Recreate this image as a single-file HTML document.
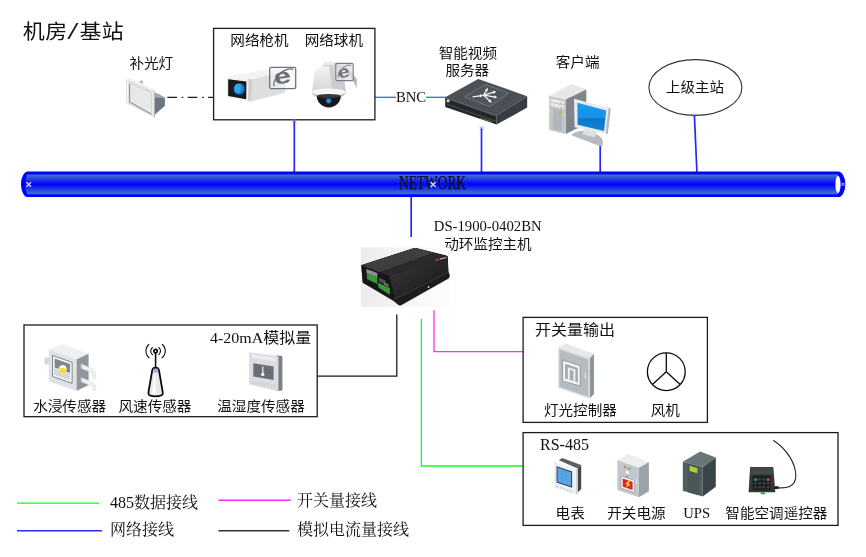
<!DOCTYPE html>
<html lang="zh-CN">
<head>
<meta charset="utf-8">
<title>机房/基站 动环监控拓扑</title>
<style>
html,body{margin:0;padding:0;background:#fff;}
body{width:866px;height:557px;overflow:hidden;position:relative;}
svg{position:absolute;left:0;top:0;display:block;}
text{opacity:0.999;}
.hei{font-family:"Liberation Sans","Noto Sans CJK SC",sans-serif;fill:#111;font-weight:400;}
.song{font-family:"Liberation Serif","Noto Serif CJK SC",serif;fill:#111;}
.tnr{font-family:"Liberation Serif",serif;fill:#111;}
.l{font-size:14.6px;}
.m{font-size:16px;}
</style>
</head>
<body>
<svg width="866" height="557" viewBox="0 0 866 557">
<defs>
  <linearGradient id="pipe" x1="0" y1="0" x2="0" y2="1">
    <stop offset="0" stop-color="#0000ff"/>
    <stop offset="0.06" stop-color="#0000ff"/>
    <stop offset="0.125" stop-color="#3f6fd1"/>
    <stop offset="0.5" stop-color="#0000fe"/>
    <stop offset="0.875" stop-color="#3f6fd1"/>
    <stop offset="0.94" stop-color="#0000ff"/>
    <stop offset="1" stop-color="#0000ff"/>
  </linearGradient>
</defs>

<!-- ===== connection lines ===== -->
<g fill="none" stroke-linecap="butt">
  <!-- blue network drops -->
  <g stroke="#2626ff" stroke-width="1.7">
    <line x1="294.3" y1="120" x2="294.3" y2="172"/>
    <line x1="481.5" y1="128.2" x2="481.5" y2="172"/>
    <line x1="600.2" y1="145" x2="600.2" y2="172"/>
    <line x1="694.4" y1="115.4" x2="696.9" y2="172"/>
    <line x1="411.2" y1="197" x2="411.2" y2="237"/>
  </g>
  <!-- BNC line -->
  <g stroke="#1f7ad6" stroke-width="1.3">
    <line x1="375" y1="97.3" x2="396" y2="97.3"/>
    <line x1="426" y1="97.3" x2="446" y2="97.3"/>
  </g>
  <!-- dash-dot -->
  <line x1="167.3" y1="97.3" x2="213.5" y2="97.3" stroke="#1c1c1c" stroke-width="1.3" stroke-dasharray="9.6 4.8 1.6 4.4"/>
  <!-- analog (black) -->
  <polyline points="396.8,314.4 396.8,376.2 317.2,376.2" stroke="#1a1a1a" stroke-width="1.3"/>
  <!-- green 485 -->
  <polyline points="421.4,319 421.4,466 523,466" stroke="#12ff12" stroke-width="1.3"/>
  <!-- magenta switch -->
  <polyline points="434,310.2 434,351.6 523,351.6" stroke="#ff2bff" stroke-width="1.3"/>
</g>

<!-- ===== network pipe ===== -->
<g id="pipe-g">
  <path d="M28,172.1 H838 a6.8,12.2 0 0 1 0,24.4 H28 a6.4,12.2 0 0 1 0,-24.4 Z" fill="#0000ff" stroke="#0000ff" stroke-width="1.2"/>
  <path d="M28.6,172.1 H838 V196.5 H28.6 Q25.2,191.6 25.2,184.3 Q25.2,177 28.6,172.1 Z" fill="url(#pipe)"/>
  <ellipse cx="838" cy="184.4" rx="2.6" ry="8.6" fill="#fff"/>
  <g stroke="#cfd3f6" stroke-width="1.5" stroke-linecap="butt">
    <path d="M26.4,182.2 l4.6,4.6 m0,-4.6 l-4.6,4.6"/>
    <path d="M841.4,182.7 l3.2,3.2 m0,-3.2 l-3.2,3.2" stroke-width="0.9" stroke="#d5d8f8"/>
  </g>
</g>
<text class="tnr" x="432.5" y="189" font-size="19.5" text-anchor="middle" textLength="67" lengthAdjust="spacingAndGlyphs" fill="#000020" stroke="#000020" stroke-width="0.25">NETWORK</text>
<path d="M430.6,182 l5,5 m0,-5 l-5,5" stroke="#cfd3f6" stroke-width="1.6" fill="none"/>

<!-- ===== boxes ===== -->
<g fill="none" stroke="#1a1a1a" stroke-width="1.3">
  <rect x="213.6" y="28.4" width="161.3" height="91.4"/>
  <rect x="24" y="325" width="293.2" height="91.7"/>
  <rect x="523.1" y="317.4" width="184.3" height="105"/>
  <rect x="523.1" y="432.6" width="314.9" height="92.8"/>
</g>
<ellipse cx="695.4" cy="87.5" rx="46.5" ry="27.9" fill="#fff" stroke="#333" stroke-width="1.1"/>

<!-- ===== texts ===== -->
<text class="hei" transform="translate(22.8 39.4) scale(1 0.93)" font-size="22" letter-spacing="0.45">机房<tspan font-family="Liberation Mono,monospace" font-size="23" dx="-1.6" dy="-0.6">/</tspan><tspan dx="-0.9" dy="0.6">基站</tspan></text>
<text class="hei l" transform="translate(151.3 68.3) scale(1 0.93)" text-anchor="middle">补光灯</text>
<text class="hei l" transform="translate(259.5 45) scale(1 0.93)" text-anchor="middle">网络枪机</text>
<text class="hei l" transform="translate(333.8 45) scale(1 0.93)" text-anchor="middle">网络球机</text>
<text class="tnr" x="411" y="101.6" font-size="14.7" text-anchor="middle">BNC</text>
<text class="hei l" transform="translate(467.8 57.9) scale(1 0.93)" text-anchor="middle">智能视频</text>
<text class="hei l" transform="translate(467.3 75.1) scale(1 0.93)" text-anchor="middle">服务器</text>
<text class="hei l" transform="translate(577.6 66.9) scale(1 0.93)" text-anchor="middle">客户端</text>
<text class="hei l" transform="translate(695 91.8) scale(1 0.93)" text-anchor="middle">上级主站</text>
<text class="tnr" x="487.7" y="231.4" font-size="14.7" text-anchor="middle">DS-1900-0402BN</text>
<text class="hei l" transform="translate(487.9 249.2) scale(1 0.93)" text-anchor="middle">动环监控主机</text>
<text transform="translate(311.2 343.3) scale(1 0.93)" text-anchor="end" class="m"><tspan class="tnr">4-20mA</tspan><tspan class="hei">模拟量</tspan></text>
<text class="hei l" transform="translate(69.6 410.5) scale(1 0.93)" text-anchor="middle">水浸传感器</text>
<text class="hei l" transform="translate(155 410.5) scale(1 0.93)" text-anchor="middle">风速传感器</text>
<text class="hei l" transform="translate(261 410.5) scale(1 0.93)" text-anchor="middle">温湿度传感器</text>
<text class="hei m" transform="translate(535 335.2) scale(1 0.93)">开关量输出</text>
<text class="hei l" transform="translate(580.4 414.5) scale(1 0.93)" text-anchor="middle">灯光控制器</text>
<text class="hei l" transform="translate(665.3 414.5) scale(1 0.93)" text-anchor="middle">风机</text>
<text class="tnr m" x="540" y="450">RS-485</text>
<text class="hei l" transform="translate(570.2 518.2) scale(1 0.93)" text-anchor="middle">电表</text>
<text class="hei l" transform="translate(636.4 518.2) scale(1 0.93)" text-anchor="middle">开关电源</text>
<text class="tnr" x="696.7" y="518" font-size="14.7" text-anchor="middle">UPS</text>
<text class="hei l" transform="translate(776.4 518.2) scale(1 0.93)" text-anchor="middle">智能空调遥控器</text>

<!-- legend -->
<g fill="none" stroke-width="1.4">
  <line x1="17" y1="503.1" x2="99" y2="503.1" stroke="#12ff12"/>
  <line x1="17" y1="530.8" x2="102" y2="530.8" stroke="#2a2aff"/>
  <line x1="218.4" y1="500.3" x2="290.8" y2="500.3" stroke="#ff2bff"/>
  <line x1="218.4" y1="530.8" x2="289.3" y2="530.8" stroke="#333"/>
</g>
<text class="song m" x="110" y="507.6">485数据接线</text>
<text class="song m" x="110" y="534.8">网络接线</text>
<text class="song m" x="297" y="505.6">开关量接线</text>
<text class="song m" x="297" y="535.4">模拟电流量接线</text>

<!-- ===== icons ===== -->

<defs>
  <filter id="soft" x="-5%" y="-5%" width="110%" height="110%"><feGaussianBlur stdDeviation="0.35"/></filter>
  <filter id="soft2" x="-5%" y="-5%" width="110%" height="110%"><feGaussianBlur stdDeviation="0.6"/></filter>
  <linearGradient id="gBody" x1="0" y1="0" x2="0" y2="1"><stop offset="0" stop-color="#f2f2f2"/><stop offset="1" stop-color="#d0d0d3"/></linearGradient>
  <linearGradient id="gLens" x1="0" y1="0" x2="1" y2="1"><stop offset="0" stop-color="#2aa4ee"/><stop offset="1" stop-color="#0b6fc0"/></linearGradient>
  <linearGradient id="gScreen" x1="0" y1="0" x2="0" y2="1"><stop offset="0" stop-color="#1d9bf0"/><stop offset="0.55" stop-color="#1490e6"/><stop offset="0.56" stop-color="#0878cc"/><stop offset="1" stop-color="#0a82d8"/></linearGradient>
  <linearGradient id="gDev" x1="0" y1="0" x2="1" y2="1"><stop offset="0" stop-color="#3a3a3c"/><stop offset="1" stop-color="#151516"/></linearGradient>
  <linearGradient id="gDevBg" x1="0" y1="0" x2="1" y2="0"><stop offset="0" stop-color="#ececec"/><stop offset="0.6" stop-color="#f7f7f7"/><stop offset="1" stop-color="#fdfdfd"/></linearGradient>
</defs>

<!-- fill light -->
<g id="ic-light" filter="url(#soft)">
  <ellipse cx="141.4" cy="82.6" rx="1.6" ry="2" fill="#9a9fa6"/>
  <ellipse cx="141.4" cy="82.9" rx="0.7" ry="1" fill="#e6e7e9"/>
  <polygon points="155,93.1 159.6,94.5 164.9,98.1 164.9,105.8 155,114.4" fill="#6d7680"/>
  <polygon points="155,93.1 159.6,94.5 164.9,98.1 155,97.4" fill="#a2a9b1"/>
  <polygon points="126.1,79.6 129.8,78 155.8,90.2 154.6,91.3" fill="#f1f1f2"/>
  <polygon points="126.1,79.6 154.6,91.3 154.6,117.6 126.1,103" fill="#dcdddf"/>
  <polygon points="126.9,81 128.4,81.6 128.4,103 126.9,102.2" fill="#f6f6f7"/>
  <polygon points="151.6,91.2 154.6,91.3 154.6,117.6 151.6,116" fill="#ededee"/>
  <polygon points="153.8,91.3 155,91.3 155,117.2 153.8,117.6" fill="#b3b6bb"/>
  <polygon points="129,83.7 151.4,93.1 151.4,114.7 129,102.1" fill="#8b9098"/>
  <polygon points="130.1,84.1 151.4,93.1 151.4,113.4 130.1,101.4" fill="#ececee"/>
  <g stroke="#d4d6d9" stroke-width="0.5">
    <line x1="130.1" y1="86.8" x2="151.4" y2="95.9"/><line x1="130.1" y1="89.2" x2="151.4" y2="98.5"/>
    <line x1="130.1" y1="91.6" x2="151.4" y2="101.1"/><line x1="130.1" y1="94" x2="151.4" y2="103.7"/>
    <line x1="130.1" y1="96.4" x2="151.4" y2="106.3"/><line x1="130.1" y1="98.8" x2="151.4" y2="108.9"/>
  </g>
</g>

<!-- bullet camera -->
<g id="ic-bullet" filter="url(#soft)">
  <polygon points="227.2,76.6 262,70.2 285,71.2 252,79.2" fill="#f3f3f3"/>
  <polygon points="252,79.2 285,71.2 285,92.8 251.6,101.4" fill="#dedee0"/>
  <polygon points="226.8,76.8 252.2,79.2 251.6,101.6 226.8,97.2" fill="#f0f0f0"/>
  <polygon points="248.4,79 252.2,79.2 251.6,101.6 248,100.8" fill="#cfcdcd"/>
  <polygon points="228.2,79.2 246.4,81.4 246.2,99.2 228.2,96" fill="#15171a"/>
  <ellipse cx="238.8" cy="88.8" rx="7.4" ry="7.8" fill="#24272b"/>
  <ellipse cx="239" cy="88.8" rx="6.3" ry="6.7" fill="#0e0f11"/>
  <ellipse cx="239.2" cy="89" rx="5.4" ry="5.8" fill="url(#gLens)"/>
  <ellipse cx="237.6" cy="88.4" rx="3.2" ry="4.6" fill="#36aef2" opacity="0.75"/>
</g>
<g id="ic-ie1">
  <rect x="269.7" y="67.3" width="26" height="21.3" rx="1.6" fill="#f4f4f6" fill-opacity="0.6" stroke="#6f737b" stroke-width="1.3"/>
  <path d="M293.2,69.8 C290.6,67.2 281.6,70.2 277.2,76.6 C274.4,80.6 273.2,84.6 274.4,86" fill="none" stroke="#70747c" stroke-width="1.3"/>
  <text transform="translate(283.2 83.4) rotate(-9) scale(1.46 1)" font-family="Liberation Sans,sans-serif" font-weight="bold" font-size="21.4" text-anchor="middle" fill="#696d75">e</text>
</g>

<!-- dome camera -->
<g id="ic-dome" filter="url(#soft)">
  <path d="M331,67.4 C343,68.4 351,74 356.8,88.4 L356.8,79.6 C351.6,69.6 344,63.6 333,62.4 Z" fill="#b4b6ba"/>
  <rect x="323.2" y="61.8" width="11.6" height="6.6" rx="2" fill="#ebebec"/>
  <path d="M323.2,65 h11.6 v1.6 h-11.6 Z" fill="#cfcfd2"/>
  <path d="M314.6,73 C316,68 321,66.4 329,66.4 C337,66.4 342,68 343.4,73 L345.8,91.6 C346,96 338,97.6 328.8,97.6 C319.6,97.6 311.6,96 311.9,91.6 Z" fill="url(#gBody)"/>
  <path d="M329,66.4 C337,66.4 342,68 343.4,73 L345.8,91.6 C343,94 338,94.6 333,94.6 Z" fill="#c4c4c8" opacity="0.75"/>
  <path d="M311.9,91.4 C311.6,96.4 319.6,98.2 328.8,98.2 C338,98.2 346,96.4 345.8,91.4 C345,94.4 338,95.6 328.8,95.6 C319.6,95.6 312.6,94.4 311.9,91.4 Z" fill="#b9babe"/>
  <ellipse cx="328.8" cy="92" rx="17" ry="3.6" fill="#f6f6f7"/>
  <path d="M316.8,96 A12,11.4 0 0 0 340.8,96 Z" fill="#15171a"/>
  <ellipse cx="328.8" cy="96" rx="12" ry="2" fill="#34373c"/>
  <circle cx="328.7" cy="100.8" r="3.2" fill="#23303c"/>
  <circle cx="328.7" cy="100.8" r="2.2" fill="#1a96ea"/>
</g>
<g id="ic-ie2">
  <rect x="335.8" y="63.4" width="17.4" height="17.2" rx="1.4" fill="#e2e2e6" fill-opacity="0.8" stroke="#7a7e86" stroke-width="1.1"/>
  <path d="M351.2,65.6 C349,64 343.4,66.2 340.4,70.6 C338.4,73.6 337.6,76.6 338.4,77.8" fill="none" stroke="#7b7f87" stroke-width="1"/>
  <text transform="translate(344.6 77.6) rotate(-10) scale(1.25 1)" font-family="Liberation Sans,sans-serif" font-weight="bold" font-size="17" text-anchor="middle" fill="#6f737b">e</text>
</g>

<!-- video server -->
<g id="ic-server" filter="url(#soft)">
  <polygon points="445.2,97.2 478.2,79 527.2,96.2 496.6,115.4" fill="#4b5057"/>
  <polygon points="445.2,97.2 496.6,115.4 496.6,124.6 445.2,107" fill="#25282c"/>
  <polygon points="496.6,115.4 527.2,96.2 527.2,107.6 496.6,124.6" fill="#393d43"/>
  <polygon points="445.2,97.2 496.6,115.4 496.6,116.6 445.2,98.4" fill="#5a5f66"/>
  <polygon points="446.6,103.6 495.6,120.8 495.6,121.8 446.6,104.6" fill="#4a4e55"/>
  <polygon points="480,117.4 492,121.6 492,122.6 480,118.4" fill="#55812a"/>
  <rect x="446.8" y="99.6" width="2.6" height="2.6" fill="#e4e4e4"/>
  <polygon points="464.9,96.8 485.2,84.4 508.6,93.2 489.9,106.7" fill="#50555c" stroke="#868c93" stroke-width="0.6"/>
  <g fill="#f4f4f4">
    <polygon points="472.7,97.5 480.1,96.4 480.3,97.4 483.4,95.3 479.8,94.2 479.9,95.2 472.5,96.3"/>
    <polygon points="484.2,95.5 486.8,91.1 487.6,91.5 487.9,87.8 484.8,89.9 485.6,90.4 483.0,94.9"/>
    <polygon points="483.8,95.8 493.3,93.0 493.6,93.9 496.4,91.4 492.7,90.8 493.0,91.7 483.4,94.6"/>
    <polygon points="483.5,95.8 493.9,97.5 493.8,98.4 497.4,97.4 494.3,95.3 494.1,96.2 483.7,94.6"/>
    <polygon points="483.2,95.7 488.9,101.0 488.2,101.7 491.8,102.8 490.4,99.3 489.7,100.0 484.0,94.7"/>
  </g>
</g>

<!-- client pc -->
<g id="ic-pc" filter="url(#soft)">
  <polygon points="549.2,96 571.5,83.9 586.3,89.4 565.6,99.4" fill="#e6e7e8"/>
  <polygon points="565.6,99.4 586.3,89.4 586.3,124 565.6,134" fill="#7f8589"/>
  <polygon points="549.2,96 565.6,99.4 565.6,134 549.2,130" fill="#c3c6c8"/>
  <polygon points="550.6,98.6 564.2,101.6 564.2,104.6 550.6,101.6" fill="#e9eaeb"/>
  <polygon points="550.6,102.8 564.2,105.8 564.2,108.8 550.6,105.8" fill="#e9eaeb"/>
  <polygon points="553,108.4 561.8,110.4 561.8,131 553,129" fill="#b3b6b9"/>
  <circle cx="561" cy="103.4" r="0.8" fill="#f0a020"/><circle cx="561" cy="107.6" r="0.8" fill="#f0a020"/>
  <rect x="559.2" y="112.2" width="3" height="1.2" fill="#8bd020"/>
  <path d="M571.4,135.2 C574,132 580,130.2 587,131 C596,132.4 602.6,137 603,142 L602.4,146.2 L599.6,146 Z" fill="#b7bbbe"/>
  <polygon points="584.6,128.6 596.6,131.6 594.8,137.4 582.6,134.2" fill="#dfe0e2"/>
  <polygon points="574,98.8 610.6,108.2 607.6,134 574.6,127.2" fill="#e9eaec"/>
  <polygon points="608.6,108 610.8,108.4 607.8,134 605.8,133.4" fill="#b4b7bb"/>
  <polygon points="577.4,102.8 606.2,110.4 604,131 577.6,124.8" fill="url(#gScreen)"/>
</g>

<!-- main device -->
<g id="ic-dev">
  <rect x="361" y="247.4" width="89.6" height="59.6" fill="url(#gDevBg)"/>
  <g filter="url(#soft2)">
    <path d="M361.3,265.3 L413.6,248.2 Q415.4,247.6 417.2,248.2 L446.4,255.6 Q447.9,256.1 447.9,257.6 L448.3,271.3 L449.6,274.6 Q450.2,277 448.6,278.4 L401.6,305 Q399.6,306.2 397.8,304.6 L393.5,300.9 L362.8,282.8 Z" fill="#1d1d1e"/>
    <polygon points="361.3,265.3 414.6,247.9 447.6,256.3 389.3,276.1" fill="#2a2a2c"/>
    <polygon points="361.3,265.3 414.6,247.9 433,252.6 379,272.2" fill="#303032"/>
    <polygon points="389.3,276.1 447.7,256.3 448.3,271.3 394.8,298.6" fill="url(#gDev)"/>
    <polygon points="361.3,265.3 389.3,276.1 394.8,298.6 362.8,282.8" fill="#171718"/>
    <g stroke="#5a5a5d" stroke-width="0.55">
      <line x1="362.7" y1="265.9" x2="416.1" y2="248.3"/><line x1="364.9" y1="266.7" x2="418.4" y2="248.9"/><line x1="367.1" y1="267.6" x2="420.6" y2="249.4"/><line x1="369.3" y1="268.4" x2="422.9" y2="250.0"/><line x1="371.5" y1="269.3" x2="425.2" y2="250.6"/><line x1="373.7" y1="270.1" x2="427.5" y2="251.2"/><line x1="375.9" y1="271.0" x2="429.8" y2="251.8"/><line x1="378.1" y1="271.9" x2="432.1" y2="252.4"/>
    </g>
    <line x1="394.8" y1="299.2" x2="448.6" y2="272" stroke="#48484b" stroke-width="0.7"/>
    <polygon points="366.4,268.9 377.3,273.1 377.3,277.5 366.4,273.3" fill="#8e908e"/>
    <polygon points="367,273.7 377.3,277.3 377.3,283.9 367,279.1" fill="#379a3b"/>
    <polygon points="377.9,282.7 389.9,288.1 389.9,294.7 378.5,287.5" fill="#379a3b"/>
    <polygon points="379,277.8 385.6,280.6 385.6,284.6 379,281.8" fill="#4e5050"/>
    <polygon points="384,282.2 388.6,284.2 388.6,287 384,285" fill="#6a6c6c"/>
    <polygon points="435,261 439.2,259.9 439.2,258.7 435,259.8" fill="#d8383a"/>
    <polygon points="439.8,259.7 446.4,258 446.4,256.9 439.8,258.6" fill="#bdbdbd"/>
    <circle cx="428.6" cy="286.9" r="0.9" fill="#e6e6e6"/>
    <circle cx="393.4" cy="292.6" r="0.9" fill="#2e2e30"/>
  </g>
</g>


<!-- water sensor -->
<g id="ic-water" filter="url(#soft)">
  <rect x="44.4" y="357.6" width="5" height="7" rx="1.6" fill="#d5d8db"/>
  <polygon points="48.8,349.6 62.4,344.3 88.6,353.7 76.4,359.5" fill="#eef0f1"/>
  <polygon points="76.4,359.5 88.6,353.7 88.6,385.1 76.4,391" fill="#8e969c"/>
  <polygon points="48.8,349.6 76.4,359.5 76.4,391 48.8,381.6" fill="#dfe2e5"/>
  <path d="M81.4,364 L91.2,368.2 C94.8,369.6 96,372 96,378.6 L93,378.6 C93,374.4 92.4,373 90,372 L81.4,368.4 Z" fill="#eef0f2" stroke="#c9cdd1" stroke-width="0.4"/>
  <path d="M81.4,377.4 L91.2,381.6 C94.8,383 96,385 96,390.6 L93,390.6 C93,387.8 92.4,386.4 90,385.4 L81.4,381.8 Z" fill="#eef0f2" stroke="#c9cdd1" stroke-width="0.4"/>
  <ellipse cx="81.6" cy="366.2" rx="1" ry="2.3" fill="#cfd3d6"/><ellipse cx="81.6" cy="379.6" rx="1" ry="2.3" fill="#cfd3d6"/>
  <polygon points="52.5,355.4 72.1,362.4 72.1,383.4 52.5,376.4" fill="#f6f7f8" stroke="#555b61" stroke-width="0.7"/>
  <polygon points="54.6,358.6 70,364 70,380.4 54.6,374.8" fill="#7f878e"/>
  <polygon points="54.6,367.6 70,373 70,380.4 54.6,374.8" fill="#eceeef"/>
  <g stroke="#9aa1a7" stroke-width="0.5"><line x1="54.6" y1="369.6" x2="70" y2="375"/><line x1="54.6" y1="371.6" x2="70" y2="377"/><line x1="54.6" y1="373.4" x2="70" y2="378.8"/></g>
  <ellipse cx="62.7" cy="369.2" rx="4" ry="4.3" fill="#fbfbe8"/>
  <path d="M58.8,369 C60,371.8 63,373.6 66.2,371.6 C66.6,370.2 66.4,369.6 66.2,369 C63.6,369.8 61,369.6 58.8,369 Z" fill="#f2dc1e"/>
  <ellipse cx="62.6" cy="370.6" rx="3.4" ry="2.6" fill="#f4e02a"/>
</g>

<!-- antenna -->
<g id="ic-ant" fill="none" stroke="#0a0a0a">
  <path d="M155.6,367.7 C153.6,367.7 152.6,368.6 152.2,370.4 L148.4,392.6 C148,395.4 151,396.4 155.6,396.4 C160.2,396.4 163.2,395.4 162.8,392.6 L159,370.4 C158.6,368.6 157.6,367.7 155.6,367.7 Z" fill="#e9e9e9" stroke-width="1.8"/>
  <path d="M155,371 L152,393 L156,394.6 Z" fill="#ffffff" stroke="none"/>
  <line x1="155.6" y1="352.6" x2="155.6" y2="368" stroke-width="1.5"/>
  <circle cx="155.6" cy="351.1" r="1.7" fill="#fff" stroke-width="1.7"/>
  <path d="M152.7,347.2 A4.8,4.8 0 0 0 152.7,355" stroke-width="1.1"/>
  <path d="M158.5,347.2 A4.8,4.8 0 0 1 158.5,355" stroke-width="1.1"/>
  <path d="M149.2,344.2 A8.8,8.8 0 0 0 149.4,358" stroke-width="1.1"/>
  <path d="M162,344.2 A8.8,8.8 0 0 1 161.8,358" stroke-width="1.1"/>
</g>
<path d="M153.6,368.6 l4,4 m0,-4 l-4,4" stroke="#8a8aff" stroke-width="1.2" fill="none"/>

<!-- temp/humidity sensor -->
<g id="ic-temp" filter="url(#soft)">
  <path d="M276,355.6 L281,355.8 C282,355.9 282.4,356.4 282.4,357.6 L282.4,389.6 C282.4,390.4 282,390.8 281,390.8 L276,390.8 Z" fill="#7a8087"/>
  <path d="M250.6,352.4 L277,355.9 C278,356 278.4,356.6 278.4,357.8 L278.4,389.4 C278.4,390.6 277.8,391 276.8,390.8 L250.6,385 C249.4,384.8 249,384.2 249,383.2 L249,354 C249,352.8 249.6,352.3 250.6,352.4 Z" fill="#dcdde0"/>
  <polygon points="252,354.6 275.4,357.8 275.4,361.6 252,358" fill="#ececee"/>
  <polygon points="253.3,363.2 273.6,366.4 273.6,379.9 253.3,376.6" fill="#696e77"/>
  <line x1="262.8" y1="366.6" x2="262.8" y2="374" stroke="#fff" stroke-width="1.1"/>
  <circle cx="262.8" cy="374.4" r="1.6" fill="#fff"/>
  <g stroke="#c4c6ca" stroke-width="0.8">
    <line x1="253" y1="380.6" x2="253" y2="384"/><line x1="256" y1="381.2" x2="256" y2="384.6"/><line x1="259" y1="381.8" x2="259" y2="385.2"/>
    <line x1="262" y1="382.4" x2="262" y2="385.8"/><line x1="265" y1="383" x2="265" y2="386.4"/><line x1="268" y1="383.6" x2="268" y2="387"/>
    <line x1="271" y1="384.2" x2="271" y2="387.6"/><line x1="274" y1="384.8" x2="274" y2="388.2"/>
  </g>
</g>

<!-- light controller cabinet -->
<g id="ic-cab" filter="url(#soft)">
  <polygon points="558.2,347.6 565.7,343.5 594,353.9 589.6,358.2" fill="#e6e8ea"/>
  <polygon points="589.6,358.2 594,353.9 594,394.1 589.6,398.5" fill="#8d959b"/>
  <polygon points="558.2,347.6 589.6,358.2 589.6,398.5 558.2,387.8" fill="#d6d9dc"/>
  <polygon points="559.6,349.8 588.2,359.4 588.2,396.6 559.6,386.8" fill="#b6bbc0"/>
  <polygon points="562.6,360.1 580.2,365.8 580.2,385.9 562.6,380.9" fill="#f4f5f6" stroke="#6d757c" stroke-width="0.6"/>
  <polygon points="565.1,363.7 577.9,367.9 577.9,382.5 565.1,378.4" fill="#a3a9af"/>
  <polygon points="567.8,367.2 575.4,369.6 575.4,381.8 573.4,381.2 573.4,370.8 569.8,369.7 569.8,380 567.8,379.4" fill="#eef0f1"/>
  <line x1="585.4" y1="372.6" x2="585.4" y2="378.6" stroke="#f0f1f2" stroke-width="0.9"/>
</g>

<!-- fan -->
<g id="ic-fan" fill="none" stroke="#0a0a0a" stroke-width="1.3">
  <circle cx="666.3" cy="371.7" r="18.9" fill="#fff"/>
  <line x1="666.3" y1="371.7" x2="666.3" y2="352.8"/>
  <line x1="666.3" y1="371.7" x2="652.4" y2="384.4"/>
  <line x1="666.3" y1="371.7" x2="680.2" y2="384.4"/>
</g>

<!-- meter -->
<g id="ic-meter" filter="url(#soft)">
  <polygon points="558.8,460.2 562.2,458 581.2,464.9 577.7,468.4" fill="#5b6165"/>
  <polygon points="577.7,468.4 581.2,464.9 581.2,489.1 577.7,492.6" fill="#3f4649"/>
  <polygon points="576,469.2 577.8,468.2 577.8,493.4 576,495.1" fill="#cfd2d5"/>
  <polygon points="554.7,461.9 576,469.2 576,495.1 554.7,487.8" fill="#f1f2f4"/>
  <polygon points="554.7,461.9 555.8,462.3 555.8,488.2 554.7,487.8" fill="#dcdee1"/>
  <polygon points="556.6,466.2 572.1,471.4 572.1,487.8 556.6,482.6" fill="#24384c"/>
  <polygon points="557.5,467.6 571.2,472.2 571.2,486.4 557.5,481.8" fill="#5aa5e6"/>
  <g stroke="#4f98da" stroke-width="0.6"><line x1="560" y1="470.6" x2="569" y2="473.6"/><line x1="560" y1="474" x2="569" y2="477"/><line x1="560" y1="477.4" x2="569" y2="480.4"/><line x1="562" y1="470" x2="562" y2="482.4"/><line x1="566.4" y1="471.4" x2="566.4" y2="484"/></g>
  <g stroke="#d3d6d9" stroke-width="2"><line x1="556.6" y1="486.3" x2="558.8" y2="487.1"/><line x1="560" y1="487.5" x2="562.2" y2="488.3"/><line x1="563.4" y1="488.7" x2="565.6" y2="489.5"/><line x1="566.8" y1="489.9" x2="569" y2="490.7"/><line x1="570.2" y1="491.1" x2="572.4" y2="491.9"/></g>
</g>

<!-- switching power supply -->
<g id="ic-psu" filter="url(#soft)">
  <polygon points="617.4,460.2 628.2,453.8 648.9,462.1 639,467.8" fill="#eceeef"/>
  <polygon points="639,467.8 648.9,462.1 648.9,491.3 639,497.2" fill="#9ba2a8"/>
  <polygon points="617.4,460.2 639,467.8 639,497.2 617.4,490" fill="#c2c7cb"/>
  <circle cx="625" cy="466.9" r="0.9" fill="#d8492c"/><circle cx="627.4" cy="467.8" r="0.9" fill="#e59a2a"/><circle cx="629.8" cy="468.7" r="0.9" fill="#3fa457"/>
  <polygon points="625,469.6 629.6,471.2 629.6,475.4 625,473.8" fill="#f4f5f6" stroke="#8a9096" stroke-width="0.4"/>
  <circle cx="627.2" cy="476.6" r="0.8" fill="#c8453a"/>
  <polygon points="621,476 634.5,480.5 634.5,492.5 621,488.1" fill="#f5f6f7" stroke="#7d858b" stroke-width="0.5"/>
  <polygon points="622.7,478.6 632.6,481.8 632.6,490 622.7,486.8" fill="#e0232b"/>
  <polygon points="628.6,480.8 625.2,484 627.4,484.8 625.4,488 630.6,484.4 628.2,483.6 630.2,481.4" fill="#f8d624"/>
  <line x1="636.5" y1="478.6" x2="636.5" y2="484.4" stroke="#eceeef" stroke-width="0.8"/>
</g>

<!-- UPS -->
<g id="ic-ups" filter="url(#soft)">
  <polygon points="682.8,461.7 700.2,451.5 715.8,457.5 702.8,467.3" fill="#6b7477"/>
  <polygon points="702.8,467.3 715.8,457.5 715.8,486.8 702.8,496.5" fill="#3b4446"/>
  <polygon points="682.8,461.7 702.8,467.3 702.8,496.5 682.8,490.8" fill="#515c5f"/>
  <polygon points="688.2,463.4 698.6,466.4 698.6,495.2 688.2,492.2" fill="#4a5457"/>
  <polygon points="689.6,465.8 697.5,468.3 697.5,473.3 689.6,471" fill="#a9d52a"/>
</g>

<!-- AC remote -->
<g id="ic-remote">
  <path d="M777,487.6 C786,488.6 795.6,487.4 795.8,476 C796,464 787,449 773.2,440.2" fill="none" stroke="#26292b" stroke-width="1.1"/>
  <g filter="url(#soft)">
  <polygon points="750.1,467 773.3,467 775.3,492.2 748.6,492.2" fill="#33383b"/>
  <polygon points="750.6,467.6 772.8,467.6 773.4,474.6 750.2,474.6" fill="#42484c"/>
  <rect x="752.6" y="475.6" width="18" height="14.6" fill="#1b1e20"/>
  <g fill="#3a3f43">
    <rect x="753.6" y="482.2" width="3" height="2.2"/><rect x="758" y="482.2" width="3" height="2.2"/><rect x="762.4" y="482.2" width="3" height="2.2"/><rect x="766.8" y="482.2" width="3" height="2.2"/>
    <rect x="753.6" y="486.2" width="3" height="2.2"/><rect x="758" y="486.2" width="3" height="2.2"/><rect x="762.4" y="486.2" width="3" height="2.2"/><rect x="766.8" y="486.2" width="3" height="2.2"/>
    <rect x="758" y="478.2" width="3" height="2.2"/><rect x="762.4" y="478.2" width="3" height="2.2"/>
  </g>
  <circle cx="755.6" cy="479.6" r="1.5" fill="#1fa05a"/>
  <circle cx="768.1" cy="479.6" r="1.5" fill="#e0492a"/>
  <rect x="760.6" y="492.4" width="4.6" height="1.8" fill="#3aa04a"/>
  <rect x="774" y="486.2" width="4.6" height="2.8" rx="0.6" fill="#1c1e20"/>
  </g>
</g>

<g id="marks" stroke="#7d7dff" stroke-width="0.9" fill="none">
  <path d="M292.5,119 l3.6,3.6 m0,-3.6 l-3.6,3.6"/>
  <path d="M479.7,126.4 l3.6,3.6 m0,-3.6 l-3.6,3.6"/>
  <path d="M692.8,113.6 l3.4,3.4 m0,-3.4 l-3.4,3.4"/>
</g>
<!--ICONS3-->

</svg>
</body>
</html>
